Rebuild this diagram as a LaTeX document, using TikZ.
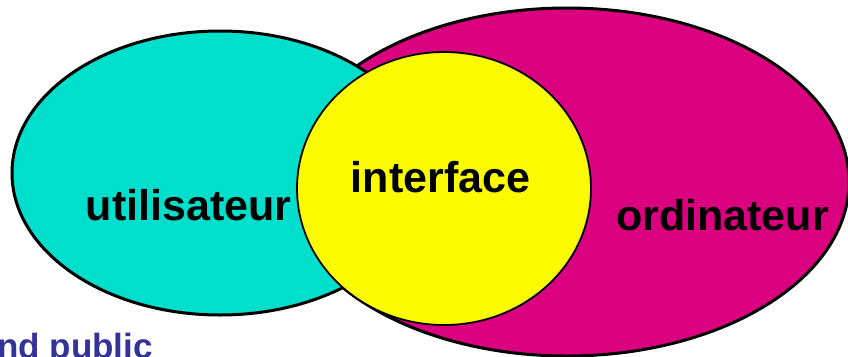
\documentclass[tikz,border=0pt]{standalone}
\usepackage{fontspec}
\setmainfont{Liberation Sans}
\usetikzlibrary{shapes.geometric}
\definecolor{userfill}{RGB}{0,223,204}
\definecolor{compfill}{RGB}{219,0,127}
\definecolor{ifacefill}{RGB}{250,250,0}
\definecolor{notecol}{RGB}{51,51,153}
\begin{document}
\begin{tikzpicture}[x=1pt,y=-1pt,
  zone/.style={ellipse,draw=black,inner sep=0pt,outer sep=0pt},
  label/.style={font=\bfseries\fontsize{43}{43}\selectfont,inner sep=0pt,anchor=base},
  note/.style={font=\bfseries\fontsize{35}{35}\selectfont,text=notecol,inner sep=0pt,anchor=base west}]
  \useasboundingbox (0,0) rectangle (848,356);
  % computer side, user side, then the interface on top
  \node[zone,fill=compfill,line width=3pt,minimum width=564pt,minimum height=348pt] (ordi) at (567,182) {};
  \node[zone,fill=userfill,line width=3pt,minimum width=416pt,minimum height=284pt] (user) at (220,173) {};
  \node[zone,fill=ifacefill,line width=1.8pt,minimum width=294pt,minimum height=273pt] (iface) at (444,188.5) {};
  \node[label] (tuser) at (188.5,220) {utilisateur};
  \node[label] (tiface) at (440.5,192) {interface};
  \node[label] (tordi) at (722.5,230) {ordinateur};
  \node[note] (public) at (-3,358) {nd public};
\end{tikzpicture}
\end{document}
